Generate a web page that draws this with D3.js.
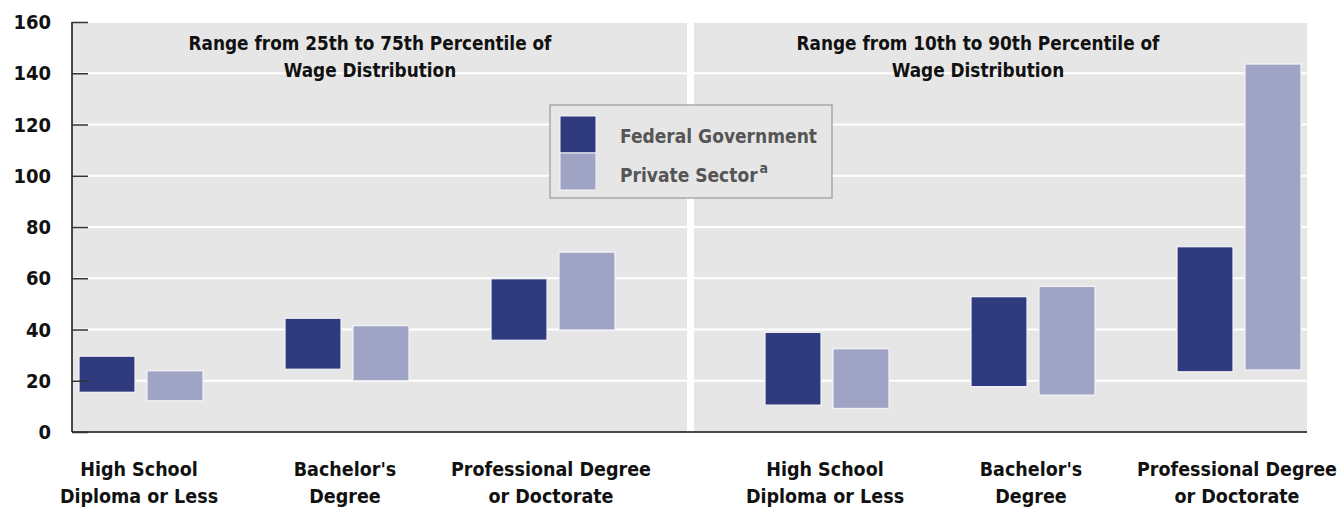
<!DOCTYPE html>
<html>
<head>
<meta charset="utf-8">
<script src="https://cdn.jsdelivr.net/npm/d3@7"></script>
<style>
  body { margin: 0; background: #fff; }
  svg text { font-family: "DejaVu Sans Condensed", "DejaVu Sans", sans-serif; font-stretch: condensed; font-weight: bold; }
</style>
</head>
<body>
<svg id="chart" width="1338" height="508"></svg>
<script>
// education levels (x categories)
const categories = [
  ["High School", "Diploma or Less"],
  ["Bachelor's", "Degree"],
  ["Professional Degree", "or Doctorate"]
];
const series = ["Federal Government", "Private Sector"];
const panelTitles = [
  ["Range from 25th to 75th Percentile of", "Wage Distribution"],
  ["Range from 10th to 90th Percentile of", "Wage Distribution"]
];
const yTicks = [0, 20, 40, 60, 80, 100, 120, 140, 160];

// hourly wages, dollars
const fedP25 = [15.5, 24.5, 35.8];
const fedP75 = [29.6, 44.4, 59.8];
const privP25 = [12.2, 20.0, 39.8];
const privP75 = [23.9, 41.5, 70.2];
const fedP10 = [10.5, 17.7, 23.5];
const fedP90 = [38.9, 52.8, 72.3];
const privP10 = [9.2, 14.4, 24.2];
const privP90 = [32.5, 56.8, 143.6];

const colors = { "Federal Government": "#303a7e", "Private Sector": "#a0a4c4" };

let svg = d3.select("#chart");
const margin = { left: 72, right: 31, top: 22, bottom: 76 },
  width = +svg.attr("width"),
  height = +svg.attr("height"),
  plotBottom = height - margin.bottom,
  plotRight = width - margin.right,
  divider = 690;

let y = d3.scaleLinear().domain([0, 160]).range([plotBottom, margin.top]);

// each panel gets its own point scale for the groups
let panels = [
  { title: panelTitles[0], x0: margin.left, x1: divider - 3, range: [141, 553], titleX: 370,
    rows: [[fedP25, fedP75], [privP25, privP75]] },
  { title: panelTitles[1], x0: divider + 4, x1: plotRight, range: [827, 1239], titleX: 978,
    rows: [[fedP10, fedP90], [privP10, privP90]] }
];

let inner = d3.scaleBand().domain(series).range([-62, 62]).paddingInner(0.176);

// backgrounds
panels.forEach((p) => {
  svg.append("rect")
    .attr("x", p.x0).attr("y", margin.top)
    .attr("width", p.x1 - p.x0).attr("height", plotBottom - margin.top)
    .attr("fill", "#e6e6e6");
});

// gridlines
panels.forEach((p) => {
  svg.append("g").selectAll("line")
    .data(yTicks.filter((t) => t > 0))
    .enter().append("line")
    .attr("x1", p.x0).attr("x2", p.x1)
    .attr("y1", (d) => y(d)).attr("y2", (d) => y(d))
    .attr("stroke", "#fff").attr("stroke-width", 2);
});

// bars
panels.forEach((p) => {
  let x = d3.scalePoint().domain(d3.range(categories.length)).range(p.range);
  series.forEach((s, si) => {
    let lo = p.rows[si][0], hi = p.rows[si][1];
    svg.append("g").selectAll("rect")
      .data(d3.range(categories.length))
      .enter().append("rect")
      .attr("x", (i) => x(i) + inner(s))
      .attr("y", (i) => y(hi[i]))
      .attr("width", inner.bandwidth())
      .attr("height", (i) => y(lo[i]) - y(hi[i]))
      .attr("fill", colors[s])
      .attr("stroke", "#f4f4f8").attr("stroke-width", 1.2);
  });

  // panel title
  svg.append("text")
    .attr("text-anchor", "middle")
    .attr("font-size", 18.8)
    .attr("fill", "#111")
    .selectAll("tspan")
    .data(p.title)
    .enter().append("tspan")
    .attr("x", p.titleX)
    .attr("y", (d, i) => 50 + i * 27)
    .text((d) => d);

  // category labels
  categories.forEach((c, i) => {
    svg.append("text")
      .attr("text-anchor", "middle")
      .attr("font-size", 19.5)
      .attr("fill", "#111")
      .selectAll("tspan")
      .data(c)
      .enter().append("tspan")
      .attr("x", x(i) - 2)
      .attr("y", (d, k) => 476 + k * 27)
      .text((d) => d);
  });
});

// axes lines
svg.append("line")
  .attr("x1", margin.left).attr("x2", margin.left)
  .attr("y1", margin.top).attr("y2", plotBottom)
  .attr("stroke", "#111").attr("stroke-width", 1.5);
svg.append("line")
  .attr("x1", margin.left).attr("x2", plotRight)
  .attr("y1", plotBottom).attr("y2", plotBottom)
  .attr("stroke", "#111").attr("stroke-width", 1.5);

let yAxis = svg.append("g")
  .attr("transform", "translate(" + margin.left + ",0)")
  .call(d3.axisRight(y).tickValues(yTicks).tickSize(16).tickFormat(""));
yAxis.select(".domain").remove();
yAxis.selectAll(".tick line").attr("stroke", "#333").attr("stroke-width", 1.5);

svg.append("g").selectAll("text")
  .data(yTicks)
  .enter().append("text")
  .attr("x", 51)
  .attr("y", (d) => y(d) + 7)
  .attr("text-anchor", "end")
  .attr("font-size", 20)
  .attr("fill", "#111")
  .text((d) => d);

// legend
let legend = svg.append("g").attr("transform", "translate(550,105)");
legend.append("rect")
  .attr("width", 282).attr("height", 93)
  .attr("fill", "#e6e6e6").attr("stroke", "#9a9a9a").attr("stroke-width", 1.2);
let item = legend.selectAll("g.item")
  .data(series)
  .enter().append("g")
  .attr("class", "item")
  .attr("transform", (d, i) => "translate(10," + (11 + i * 37) + ")");
item.append("rect")
  .attr("width", 36).attr("height", 37)
  .attr("fill", (d) => colors[d])
  .attr("stroke", "#f4f4f8").attr("stroke-width", 1);
let lt = item.append("text")
  .attr("x", 60).attr("y", (d, i) => 27 + i * 2)
  .attr("font-size", 19)
  .attr("fill", "#555")
  .text((d) => d);
lt.filter((d, i) => i === 1).append("tspan")
  .attr("dx", 2).attr("dy", -9)
  .attr("font-size", 14)
  .text("a");
</script>
</body>
</html>
